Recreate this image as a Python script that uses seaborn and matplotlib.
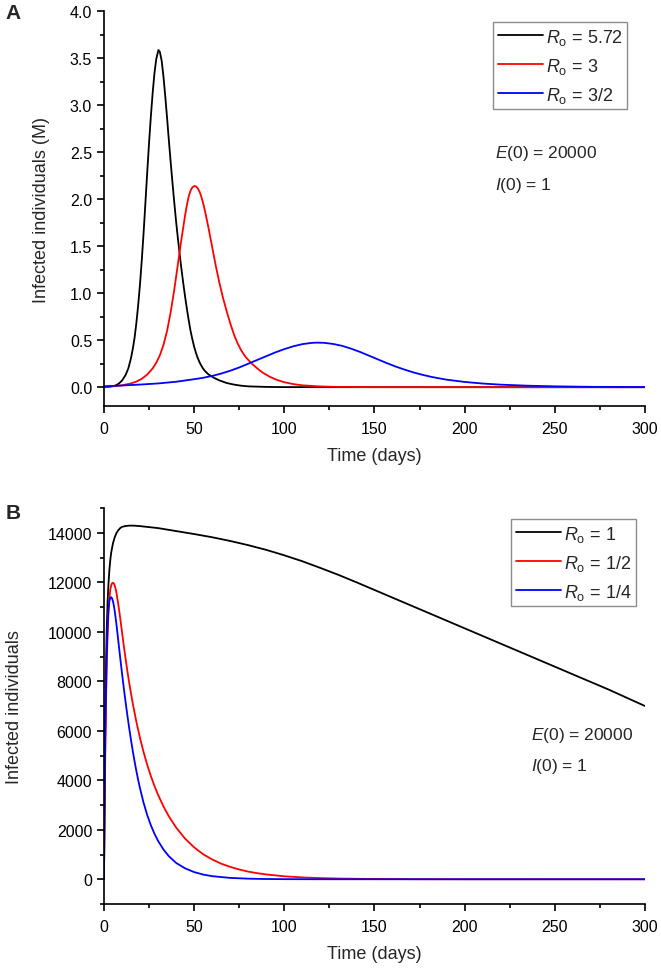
import numpy as np
import pandas as pd
import matplotlib
matplotlib.use('Agg')
import matplotlib.pyplot as plt
import matplotlib.ticker as ticker
import seaborn as sns

# panel A: infected (millions)
days_a_black = [0, 3, 6, 8, 10, 12, 13.5, 15, 16, 17, 18, 19, 20, 21, 22, 23, 24, 25, 26, 27, 28, 29, 30.2,
                31, 32, 33, 34, 35, 36, 37, 38, 39, 40, 41, 42, 43, 44, 45, 46, 47, 48, 49, 50, 51, 52, 53,
                54, 55, 56, 58, 61, 64, 68, 72, 76, 80, 90, 100, 150, 300]
inf_a_black = [0.0, 0.005, 0.015, 0.035, 0.07, 0.13, 0.2, 0.31, 0.41, 0.53, 0.69, 0.88, 1.1, 1.36, 1.65,
               1.97, 2.29, 2.6, 2.88, 3.13, 3.34, 3.49, 3.586, 3.565, 3.47, 3.3, 3.09, 2.86, 2.62, 2.39,
               2.17, 1.96, 1.76, 1.58, 1.41, 1.25, 1.1, 0.96, 0.83, 0.71, 0.6, 0.51, 0.43, 0.365, 0.31,
               0.265, 0.228, 0.197, 0.172, 0.135, 0.1, 0.072, 0.045, 0.028, 0.016, 0.009, 0.003, 0.001,
               0.0, 0.0]

days_a_red = [0, 5, 10, 15, 18, 21, 24, 27, 29, 31, 33, 35, 37, 39, 41, 43, 45, 46, 47, 48, 49, 50.2, 51,
              52, 53, 54, 55, 56, 58, 60, 62, 64, 66, 68, 70, 72, 74, 76, 78, 80, 82, 85, 88, 92, 96, 100,
              105, 110, 120, 130, 150, 300]
inf_a_red = [0.005, 0.01, 0.02, 0.04, 0.06, 0.09, 0.135, 0.2, 0.26, 0.34, 0.45, 0.6, 0.8, 1.04, 1.31,
             1.58, 1.83, 1.94, 2.03, 2.09, 2.125, 2.14, 2.135, 2.115, 2.08, 2.025, 1.955, 1.875, 1.69,
             1.49, 1.29, 1.11, 0.95, 0.81, 0.68, 0.565, 0.47, 0.395, 0.335, 0.29, 0.25, 0.2, 0.155, 0.11,
             0.077, 0.053, 0.033, 0.02, 0.008, 0.003, 0.001, 0.0]

days_a_blue = [0, 10, 20, 30, 40, 50, 55, 60, 65, 70, 75, 80, 85, 90, 95, 100, 105, 110, 115, 118, 122, 127,
               132, 137, 142, 147, 152, 157, 162, 167, 172, 177, 182, 190, 200, 210, 220, 235, 250, 270, 300]
inf_a_blue = [0.01, 0.018, 0.028, 0.04, 0.058, 0.085, 0.1, 0.12, 0.145, 0.175, 0.21, 0.25, 0.29, 0.33,
              0.37, 0.405, 0.435, 0.458, 0.471, 0.474, 0.472, 0.46, 0.44, 0.41, 0.375, 0.335, 0.295,
              0.255, 0.218, 0.185, 0.155, 0.13, 0.108, 0.08, 0.056, 0.039, 0.027, 0.016, 0.009, 0.004,
              0.002]

labels_a = ['$R_\\mathrm{o}$ = 5.72', '$R_\\mathrm{o}$ = 3', '$R_\\mathrm{o}$ = 3/2']

# panel B: infected individuals
days_b_black = [0, 0.25, 0.5, 0.75, 1, 1.5, 2, 2.5, 3, 3.5, 4, 5, 6, 7, 8, 9, 10, 12, 14, 16, 18, 20, 30,
                40, 50, 60, 70, 80, 90, 100, 110, 120, 130, 140, 150, 160, 170, 180, 190, 200, 210, 220,
                230, 240, 250, 260, 270, 280, 290, 300]
inf_b_black = [0, 2500, 4800, 6700, 8200, 10000, 11200, 11950, 12500, 12900, 13200, 13580, 13830, 14000,
               14110, 14190, 14240, 14275, 14290, 14290, 14282, 14270, 14190, 14070, 13950, 13820, 13670,
               13500, 13310, 13090, 12850, 12580, 12300, 12000, 11690, 11380, 11070, 10760, 10450, 10140,
               9830, 9520, 9210, 8900, 8590, 8280, 7970, 7660, 7330, 7000]

days_b_red = [0, 0.25, 0.5, 0.75, 1, 1.5, 2, 2.5, 3, 3.5, 4, 4.5, 5, 5.5, 6, 6.5, 7, 8, 9, 10, 11, 12, 13,
              14, 15, 16, 18, 20, 22, 24, 26, 28, 30, 33, 36, 40, 45, 50, 55, 60, 65, 70, 75, 80, 85, 90,
              100, 110, 120, 130, 150, 175, 200, 300]
inf_b_red = [0, 2000, 3800, 5400, 6700, 8600, 9900, 10800, 11350, 11700, 11880, 11960, 11980, 11950, 11860,
             11720, 11540, 11080, 10550, 9990, 9430, 8900, 8400, 7930, 7500, 7090, 6350, 5700, 5130, 4620,
             4170, 3770, 3410, 2940, 2540, 2090, 1640, 1290, 1010, 800, 630, 500, 395, 310, 245, 195, 120,
             75, 47, 29, 11, 3, 1, 0]

days_b_blue = [0, 0.25, 0.5, 0.75, 1, 1.5, 2, 2.5, 3, 3.5, 4, 4.5, 5, 5.5, 6, 7, 8, 9, 10, 11, 12, 13, 14,
               15, 16, 17, 18, 19, 20, 22, 24, 26, 28, 30, 33, 36, 40, 45, 50, 55, 60, 70, 80, 90, 100,
               120, 150, 300]
inf_b_blue = [0, 2200, 4100, 5800, 7100, 9000, 10200, 10900, 11250, 11380, 11400, 11350, 11230, 11050,
              10820, 10250, 9600, 8950, 8320, 7720, 7150, 6610, 6100, 5620, 5170, 4750, 4360, 4000, 3670,
              3080, 2590, 2180, 1840, 1550, 1200, 930, 660, 440, 290, 190, 125, 55, 24, 10, 4, 1, 0, 0]

labels_b = ['$R_\\mathrm{o}$ = 1', '$R_\\mathrm{o}$ = 1/2', '$R_\\mathrm{o}$ = 1/4']

colors = ['black', '#ff0000', '#0000ff']

sns.set_theme(style='ticks')
plt.rcParams['font.family'] = ['Liberation Sans', 'DejaVu Sans']
plt.rcParams['mathtext.fontset'] = 'custom'
plt.rcParams['mathtext.rm'] = 'Liberation Sans'
plt.rcParams['mathtext.it'] = 'Liberation Sans:italic'
plt.rcParams['mathtext.bf'] = 'Liberation Sans:bold'


def style_axis(ax, ymin, ymax, ymajor, yminor, ylabel, fmt, ylabelpad):
    ax.set_xlim(0, 300)
    ax.set_ylim(ymin, ymax)
    ax.xaxis.set_major_locator(ticker.MultipleLocator(50))
    ax.xaxis.set_minor_locator(ticker.MultipleLocator(25))
    ax.yaxis.set_major_locator(ticker.MultipleLocator(ymajor))
    ax.yaxis.set_minor_locator(ticker.MultipleLocator(yminor))
    ax.yaxis.set_major_formatter(ticker.FormatStrFormatter(fmt))
    for s in ['top', 'right']:
        ax.spines[s].set_visible(False)
    for s in ['left', 'bottom']:
        ax.spines[s].set_linewidth(1.2)
        ax.spines[s].set_color('black')
    ax.tick_params(which='major', length=5, width=1.2, labelsize=11.5, colors='black')
    ax.tick_params(which='minor', length=3, width=1.2, colors='black')
    ax.tick_params(axis='x', which='major', pad=6)
    ax.set_xlabel('Time (days)', fontsize=13, labelpad=8)
    ax.set_ylabel(ylabel, fontsize=13, labelpad=ylabelpad)


def draw_legend(ax, anchor):
    leg = ax.legend(loc='upper right', bbox_to_anchor=anchor, fontsize=13, frameon=True, fancybox=False,
                    handlelength=2.5, handletextpad=0.15, labelspacing=0.5, borderpad=0.25,
                    borderaxespad=0)
    leg.get_frame().set_edgecolor('#707070')
    leg.get_frame().set_linewidth(1.0)
    for line in leg.get_lines():
        line.set_linewidth(1.3)


fig = plt.figure(figsize=(6.61, 9.70), dpi=100)
ax_a = fig.add_axes([0.1573, 0.5804, 0.8185, 0.4072])
ax_b = fig.add_axes([0.1573, 0.0670, 0.8185, 0.4082])

series_a = [(days_a_black, inf_a_black), (days_a_red, inf_a_red), (days_a_blue, inf_a_blue)]
for (d, v), lab, c in zip(series_a, labels_a, colors):
    sns.lineplot(x=d, y=v, color=c, label=lab, linewidth=1.3, ax=ax_a)
style_axis(ax_a, -0.2, 4.0, 0.5, 0.25, 'Infected individuals (M)', '%.1f', 14)
draw_legend(ax_a, (0.967, 0.972))
ax_a.text(217, 2.5, '$E$(0) = 20000', fontsize=12.5, va='center', ha='left')
ax_a.text(217, 2.16, '$I$(0) = 1', fontsize=12.5, va='center', ha='left')

series_b = [(days_b_black, inf_b_black), (days_b_red, inf_b_red), (days_b_blue, inf_b_blue)]
for (d, v), lab, c in zip(series_b, labels_b, colors):
    sns.lineplot(x=d, y=v, color=c, label=lab, linewidth=1.3, ax=ax_b)
style_axis(ax_b, -1000, 15000, 2000, 1000, 'Infected individuals', '%d', 18)
draw_legend(ax_b, (0.983, 0.972))
ax_b.text(237, 5860, '$E$(0) = 20000', fontsize=12.5, va='center', ha='left')
ax_b.text(237, 4600, '$I$(0) = 1', fontsize=12.5, va='center', ha='left')

fig.text(0.008, 0.986, 'A', fontsize=15, fontweight='bold', va='center', ha='left')
fig.text(0.008, 0.471, 'B', fontsize=15, fontweight='bold', va='center', ha='left')

fig.savefig('out.png', dpi=100)
